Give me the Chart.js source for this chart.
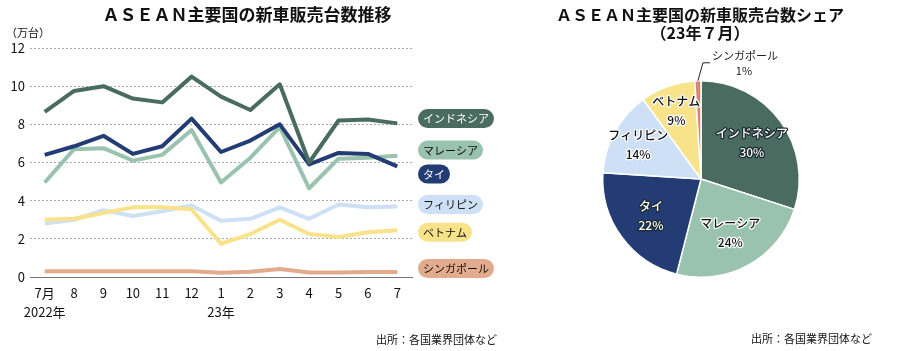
<!DOCTYPE html>
<html>
<head>
<meta charset="utf-8">
<script src="https://cdn.jsdelivr.net/npm/chart.js@4.4.0/dist/chart.umd.min.js"></script>
<style>
html, body { margin: 0; padding: 0; background: #fff; }
#wrap { position: relative; width: 900px; height: 351px; overflow: hidden; }
#lineBox { position: absolute; left: 0; top: 0; width: 500px; height: 351px; }
#pieBox { position: absolute; left: 500px; top: 0; width: 400px; height: 351px; }
</style>
</head>
<body>
<div id="wrap">
  <div id="lineBox"><canvas id="lineChart"></canvas></div>
  <div id="pieBox"><canvas id="pieChart"></canvas></div>
</div>
<script>
const FONT = '"Noto Sans CJK JP", "Noto Sans", sans-serif';

// monthly sales, 10k units
const months = [['7月', '2022年'], '8', '9', '10', '11', '12', ['1', '23年'], '2', '3', '4', '5', '6', '7'];
const indonesia = [8.65, 9.75, 10.0, 9.35, 9.15, 10.5, 9.45, 8.75, 10.1, 6.0, 8.2, 8.25, 8.05];
const thailand = [6.4, 6.85, 7.4, 6.45, 6.85, 8.3, 6.55, 7.15, 8.0, 5.9, 6.5, 6.45, 5.8];
const malaysia = [4.95, 6.7, 6.75, 6.1, 6.4, 7.7, 4.95, 6.25, 7.85, 4.65, 6.2, 6.25, 6.35];
const vietnam = [3.0, 3.05, 3.35, 3.65, 3.65, 3.55, 1.75, 2.25, 3.0, 2.25, 2.1, 2.35, 2.45];
const philippines = [2.8, 3.0, 3.5, 3.2, 3.45, 3.75, 2.95, 3.05, 3.65, 3.05, 3.8, 3.65, 3.7];
const singapore = [0.3, 0.3, 0.3, 0.3, 0.3, 0.3, 0.22, 0.27, 0.42, 0.24, 0.24, 0.26, 0.26];
const yTicks = [0, 2, 4, 6, 8, 10, 12];

// share, July 2023 (%)
const shareLabels = ['インドネシア', 'マレーシア', 'タイ', 'フィリピン', 'ベトナム', 'シンガポール'];
const shares = [30, 24, 22, 14, 9, 1];

const C = {
  indonesia: '#4a6b60',
  malaysia: '#99c3af',
  thailand: '#233d74',
  philippines: '#cee0f5',
  vietnam: '#f8e38b',
  singapore: '#e2ab8d',
  singaporePie: '#d9846e'
};

function pill(ctx, x, y, w, h, fill) {
  const r = h / 2;
  ctx.beginPath();
  ctx.moveTo(x + r, y);
  ctx.lineTo(x + w - r, y);
  ctx.arc(x + w - r, y + r, r, -Math.PI / 2, Math.PI / 2);
  ctx.lineTo(x + r, y + h);
  ctx.arc(x + r, y + r, r, Math.PI / 2, Math.PI * 1.5);
  ctx.closePath();
  ctx.fillStyle = fill;
  ctx.fill();
}

const lineDecor = {
  id: 'lineDecor',
  afterDraw(chart) {
    const ctx = chart.ctx;
    const ys = chart.scales.y;
    ctx.save();
    ctx.textBaseline = 'middle';
    ctx.fillStyle = '#111';
    ctx.textAlign = 'center';
    ctx.font = 'bold 17px ' + FONT;
    ctx.fillText('ＡＳＥＡＮ主要国の新車販売台数推移', 247, 15);
    ctx.textAlign = 'left';
    ctx.font = '11px ' + FONT;
    ctx.fillText('（万台）', 6, 33);
    ctx.textAlign = 'right';
    ctx.fillText('出所：各国業界団体など', 497, 340);

    // series labels at the right
    ctx.font = '11px ' + FONT;
    ctx.textAlign = 'left';
    chart.data.datasets.forEach(ds => {
      const cy = ys.getPixelForValue(ds.tagAt);
      const w = ctx.measureText(ds.label).width + 10;
      pill(ctx, 418, cy - 9.5, w, 19, ds.borderColor);
      ctx.fillStyle = ds.tagText;
      ctx.fillText(ds.label, 423, cy + 0.5);
    });
    ctx.restore();
  }
};

new Chart(document.getElementById('lineChart'), {
  type: 'line',
  data: {
    labels: months,
    datasets: [
      { label: 'インドネシア', data: indonesia, borderColor: C.indonesia, tagAt: 8.3, tagText: '#fff' },
      { label: 'タイ', data: thailand, borderColor: C.thailand, tagAt: 5.4, tagText: '#fff' },
      { label: 'マレーシア', data: malaysia, borderColor: C.malaysia, tagAt: 6.65, tagText: '#111' },
      { label: 'ベトナム', data: vietnam, borderColor: C.vietnam, tagAt: 2.35, tagText: '#111' },
      { label: 'フィリピン', data: philippines, borderColor: C.philippines, tagAt: 3.8, tagText: '#111' },
      { label: 'シンガポール', data: singapore, borderColor: C.singapore, tagAt: 0.45, tagText: '#111' }
    ]
  },
  options: {
    animation: false,
    responsive: true,
    maintainAspectRatio: false,
    layout: { padding: { left: 0, right: 88, top: 48, bottom: 0 } },
    elements: {
      line: { borderWidth: 4, tension: 0, fill: false, borderJoinStyle: 'round' },
      point: { radius: 0 }
    },
    plugins: {
      legend: { display: false },
      tooltip: { enabled: false }
    },
    scales: {
      x: {
        offset: true,
        grid: { display: false, drawTicks: false },
        border: { display: true, color: '#777', width: 1 },
        ticks: { color: '#111', font: { family: FONT, size: 13, lineHeight: 1.5 }, padding: 6, maxRotation: 0, autoSkip: false },
        afterFit(s) { s.height = 74; }
      },
      y: {
        min: 0,
        max: 12,
        afterBuildTicks(s) { s.ticks = yTicks.map(v => ({ value: v })); },
        grid: {
          color: c => (c.tick && c.tick.value === 0) ? 'rgba(0,0,0,0)' : '#aaa',
          drawTicks: false,
          lineWidth: 1
        },
        border: { display: false, dash: [2, 2] },
        ticks: { color: '#111', font: { family: FONT, size: 13 }, padding: 5 },
        afterFit(s) { s.width = 30; }
      }
    }
  },
  plugins: [lineDecor]
});

const pieDecor = {
  id: 'pieDecor',
  afterDraw(chart, args, opts) {
    const ctx = chart.ctx;
    const arcs = chart.getDatasetMeta(0).data;
    const vals = chart.data.datasets[0].data;
    ctx.save();
    ctx.textAlign = 'center';
    ctx.textBaseline = 'middle';
    ctx.fillStyle = '#111';
    ctx.font = 'bold 16px ' + FONT;
    ctx.fillText('ＡＳＥＡＮ主要国の新車販売台数シェア', 200, 15);
    ctx.fillText('（23年７月）', 200, 33);
    ctx.font = '11px ' + FONT;
    ctx.textAlign = 'right';
    ctx.fillText('出所：各国業界団体など', 372, 339);

    ctx.textAlign = 'center';
    ctx.lineJoin = 'round';
    arcs.forEach((a, i) => {
      const mid = (a.startAngle + a.endAngle) / 2;
      const name = chart.data.labels[i];
      const pct = vals[i] + '%';
      if (i === arcs.length - 1) {
        // small slice: leader line and outside label
        const x0 = a.x + Math.cos(mid) * a.outerRadius;
        const y0 = a.y + Math.sin(mid) * a.outerRadius;
        ctx.strokeStyle = '#222';
        ctx.lineWidth = 1;
        ctx.beginPath();
        ctx.moveTo(x0, y0);
        ctx.lineTo(x0 + 5, y0 - 18);
        ctx.lineTo(x0 + 12, y0 - 18);
        ctx.stroke();
        ctx.fillStyle = '#222';
        ctx.font = '11px ' + FONT;
        ctx.fillText(name, x0 + 47, y0 - 25);
        ctx.fillText(pct, x0 + 46, y0 - 10);
        return;
      }
      const r = a.outerRadius * opts.dist[i];
      const x = a.x + Math.cos(mid) * r;
      const y = a.y + Math.sin(mid) * r;
      const dark = opts.darkText[i];
      ctx.font = '500 12px ' + FONT;
      ctx.lineWidth = 2.5;
      ctx.strokeStyle = dark ? '#fff' : '#1c2a30';
      ctx.fillStyle = dark ? '#111' : '#fff';
      [[name, y - 9], [pct, y + 10]].forEach(([t, ty]) => {
        ctx.strokeText(t, x, ty);
        ctx.fillText(t, x, ty);
      });
    });
    ctx.restore();
  }
};

new Chart(document.getElementById('pieChart'), {
  type: 'pie',
  data: {
    labels: shareLabels,
    datasets: [{
      data: shares,
      backgroundColor: [C.indonesia, C.malaysia, C.thailand, C.philippines, C.vietnam, C.singaporePie],
      borderColor: '#fff',
      borderWidth: 1.5
    }]
  },
  options: {
    animation: false,
    responsive: true,
    maintainAspectRatio: false,
    layout: { padding: { left: 102, right: 100, top: 80, bottom: 73 } },
    plugins: {
      legend: { display: false },
      tooltip: { enabled: false },
      pieDecor: {
        dist: [0.64, 0.62, 0.63, 0.73, 0.74],
        darkText: [false, true, false, true, true]
      }
    }
  },
  plugins: [pieDecor]
});
</script>
</body>
</html>
